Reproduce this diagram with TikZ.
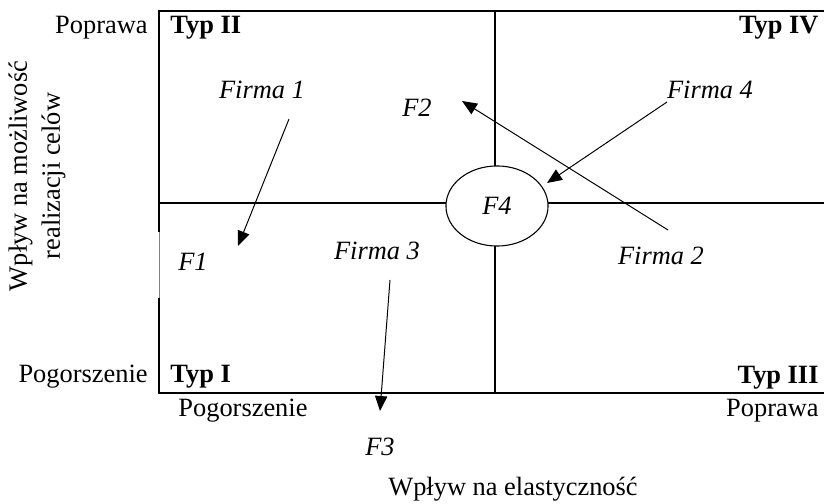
\documentclass[tikz,border=0pt]{standalone}
\usepackage{fontspec}
\setmainfont{Liberation Serif}
\usetikzlibrary{arrows.meta,shapes.geometric}
\begin{document}
\begin{tikzpicture}[x=0.4545pt,y=-0.4545pt,
  every node/.style={font=\fontsize{12}{14}\selectfont, inner sep=0pt},
  frame/.style={line width=0.95pt},
  lbl/.style={font=\fontsize{12}{14}\selectfont\itshape},
  typ/.style={font=\fontsize{12}{14}\selectfont\bfseries},
  arr/.style={line width=0.45pt,-{Triangle[length=6.8pt,width=5.6pt]}}]
\useasboundingbox (0,0) rectangle (824,504);
% frame
\draw[frame] (159,232) -- (159,11) -- (824,11);
\draw[line width=0.4pt, gray] (159,232) -- (159,298);
\draw[frame] (159,298) -- (159,393) -- (824,393);
\draw[frame] (159,203) -- (824,203);
\draw[frame] (495,11) -- (495,393);
\node[ellipse, draw, line width=0.5pt, fill=white, minimum width=46.4pt, minimum height=36.4pt, lbl] (f4) at (497,206) {F4};
% axis labels
\node[anchor=east] (popy) at (148,28) {Poprawa};
\node[anchor=east] (pogy) at (148,377) {Pogorszenie};
\node[anchor=west] (pogx) at (178,411) {Pogorszenie};
\node[anchor=east] (popx) at (819,411) {Poprawa};
\node (xlab) at (513,489) {Wpływ na elastyczność};
\node[rotate=90, align=center, font=\fontsize{12}{15}\selectfont] (ylab) at (37,176) {Wpływ na możliwość\\realizacji celów};
% types
\node[typ, anchor=west] (t2) at (170,28) {Typ II};
\node[typ, anchor=east] (t4) at (819,28) {Typ IV};
\node[typ, anchor=west] (t1) at (170,377) {Typ I};
\node[typ, anchor=east] (t3) at (819,378) {Typ III};
% firm labels
\node[lbl] (firma1) at (262,90) {Firma 1};
\node[lbl] (fF2) at (417,108) {F2};
\node[lbl] (firma4) at (710,90) {Firma 4};
\node[lbl] (fF1) at (193,262) {F1};
\node[lbl] (firma3) at (377,251) {Firma 3};
\node[lbl] (firma2) at (661,256) {Firma 2};
\node[lbl] (fF3) at (380,447) {F3};
% arrow end points
\coordinate (a1s) at (289,119); \coordinate (a1e) at (238,246);
\coordinate (a2s) at (668,230); \coordinate (a2e) at (462,101);
\coordinate (a4s) at (667,102); \coordinate (a4e) at (547,183);
\coordinate (a3s) at (390,280); \coordinate (a3e) at (380,411);
\draw[arr] (a1s) -- (a1e);
\draw[arr] (a2s) -- (a2e);
\draw[arr] (a4s) -- (a4e);
\draw[arr] (a3s) -- (a3e);
\end{tikzpicture}
\end{document}
